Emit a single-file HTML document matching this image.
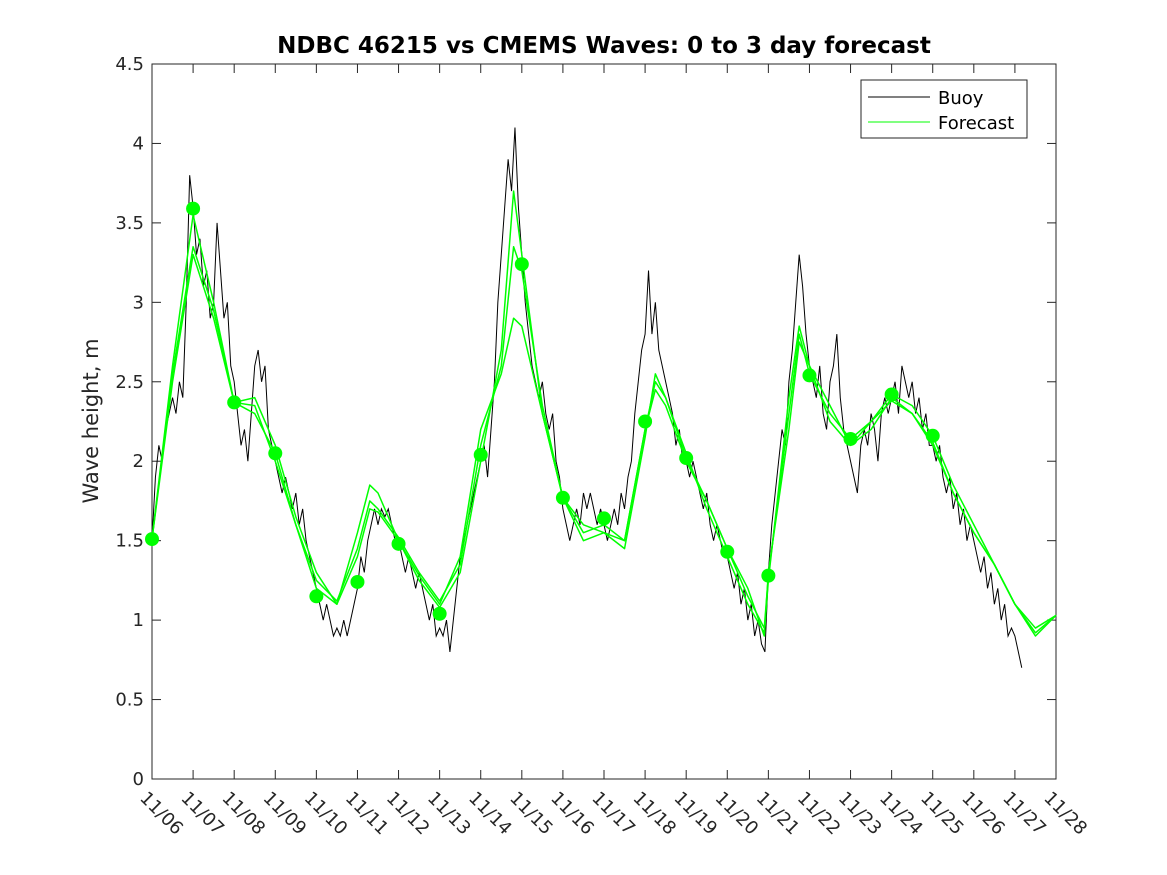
<!DOCTYPE html>
<html><head><meta charset="utf-8"><style>
body{margin:0;background:#fff;}
svg{display:block;font-family:"DejaVu Sans","Liberation Sans",sans-serif;}
</style></head><body>
<svg id="chart" width="1167" height="875" viewBox="0 0 1167 875"></svg>
<script>
const dayLabels=["11/06","11/07","11/08","11/09","11/10","11/11","11/12","11/13","11/14","11/15","11/16","11/17","11/18","11/19","11/20","11/21","11/22","11/23","11/24","11/25","11/26","11/27","11/28"];
const yTicks=[0,0.5,1,1.5,2,2.5,3,3.5,4,4.5];
const buoyStart=6, buoyStep=1/12;
const buoy=[1.5,1.9,2.1,2.0,2.2,2.3,2.4,2.3,2.5,2.4,3.0,3.8,
3.6,3.3,3.4,3.1,3.2,2.9,3.0,3.5,3.2,2.9,3.0,2.6,
2.5,2.3,2.1,2.2,2.0,2.3,2.6,2.7,2.5,2.6,2.2,2.1,
2.0,1.9,1.8,1.9,1.8,1.7,1.8,1.6,1.7,1.5,1.4,1.3,
1.2,1.1,1.0,1.1,1.0,0.9,0.95,0.9,1.0,0.9,1.0,1.1,
1.2,1.4,1.3,1.5,1.6,1.7,1.6,1.7,1.65,1.7,1.6,1.5,
1.5,1.4,1.3,1.4,1.3,1.2,1.3,1.2,1.1,1.0,1.1,0.9,
0.95,0.9,1.0,0.8,1.0,1.2,1.4,1.5,1.6,1.7,1.8,1.9,
2.0,2.1,1.9,2.2,2.5,3.0,3.3,3.6,3.9,3.7,4.1,3.6,
3.3,3.0,2.8,2.6,2.5,2.4,2.5,2.3,2.2,2.3,2.0,1.9,
1.7,1.6,1.5,1.6,1.7,1.6,1.8,1.7,1.8,1.7,1.6,1.7,
1.6,1.5,1.6,1.7,1.6,1.8,1.7,1.9,2.0,2.3,2.5,2.7,
2.8,3.2,2.8,3.0,2.7,2.6,2.5,2.4,2.3,2.1,2.2,2.0,
2.0,1.9,2.0,1.9,1.8,1.7,1.8,1.6,1.5,1.6,1.5,1.4,
1.4,1.3,1.2,1.3,1.1,1.2,1.0,1.1,0.9,1.0,0.85,0.8,
1.3,1.6,1.8,2.0,2.2,2.1,2.5,2.7,3.0,3.3,3.1,2.8,
2.6,2.5,2.4,2.6,2.3,2.2,2.5,2.6,2.8,2.4,2.2,2.1,
2.0,1.9,1.8,2.1,2.2,2.1,2.3,2.2,2.0,2.3,2.4,2.3,
2.4,2.5,2.3,2.6,2.5,2.4,2.5,2.3,2.4,2.2,2.3,2.1,
2.1,2.0,2.1,1.9,1.8,1.9,1.7,1.8,1.6,1.7,1.5,1.6,
1.5,1.4,1.3,1.4,1.2,1.3,1.1,1.2,1.0,1.1,0.9,0.95,
0.9,0.8,0.7];
const fcDays=[6,6.5,7,7.5,8,8.5,9,9.5,10,10.5,11,11.3,11.5,12,12.5,13,13.5,14,14.5,14.8,15,15.5,16,16.5,17,17.5,18,18.25,18.5,19,19.5,20,20.5,20.9,21,21.5,21.75,22,22.5,23,23.5,24,24.5,25,25.5,26,26.5,27,27.5,28];
const fcA=[1.51,2.6,3.55,3.0,2.37,2.3,2.05,1.6,1.2,1.1,1.55,1.85,1.8,1.5,1.25,1.08,1.3,2.0,2.7,3.7,3.3,2.3,1.77,1.55,1.6,1.5,2.2,2.5,2.4,2.02,1.75,1.45,1.15,0.95,1.28,2.3,2.8,2.55,2.3,2.14,2.25,2.42,2.35,2.16,1.85,1.6,1.35,1.1,0.9,1.03];
const fcB=[1.51,2.55,3.35,2.95,2.37,2.35,2.0,1.6,1.25,1.12,1.45,1.75,1.7,1.52,1.3,1.12,1.35,2.1,2.6,3.35,3.2,2.35,1.77,1.6,1.55,1.45,2.15,2.55,2.4,2.05,1.7,1.4,1.1,0.92,1.25,2.4,2.85,2.6,2.25,2.1,2.2,2.4,2.3,2.1,1.8,1.55,1.35,1.1,0.95,1.03];
const fcC=[1.51,2.5,3.3,2.9,2.37,2.4,2.1,1.65,1.3,1.1,1.4,1.7,1.68,1.5,1.28,1.1,1.4,2.2,2.55,2.9,2.85,2.3,1.77,1.5,1.55,1.5,2.2,2.45,2.35,2.0,1.75,1.45,1.2,0.9,1.3,2.2,2.75,2.6,2.35,2.1,2.25,2.38,2.3,2.12,1.8,1.55,1.35,1.1,0.92,1.03];
const markerVals=[1.51,3.59,2.37,2.05,1.15,1.24,1.48,1.04,2.04,3.24,1.77,1.64,2.25,2.02,1.43,1.28,2.54,2.14,2.42,2.16];

const NS="http://www.w3.org/2000/svg";
const svg=document.getElementById('chart');
const L=152,R=1056,T=64,B=779;
const xs=d=>L+(d-6)/22*(R-L);
const ys=v=>B-v/4.5*(B-T);
function el(t,a,p){const e=document.createElementNS(NS,t);for(const k in a)e.setAttribute(k,a[k]);(p||svg).appendChild(e);return e;}

let bg=el('rect',{x:L,y:T,width:R-L,height:B-T,fill:'#fff',stroke:'#262626','stroke-width':1});



const tt=el('text',{x:(L+R)/2,y:53,'text-anchor':'middle','font-size':23,'font-weight':'bold',fill:'#000'});
tt.textContent='NDBC 46215 vs CMEMS Waves: 0 to 3 day forecast';



const yl=el('text',{x:0,y:0,transform:'translate(98,421) rotate(-90)','text-anchor':'middle','font-size':21,fill:'#262626'});
yl.textContent='Wave height, m';



yTicks.forEach(v=>{
  const y=ys(v);
  el('line',{x1:L,x2:L+9,y1:y,y2:y,stroke:'#262626'});
  el('line',{x1:R,x2:R-9,y1:y,y2:y,stroke:'#262626'});
  const t=el('text',{x:L-8,y:y+6,'text-anchor':'end','font-size':18,fill:'#262626'});
  t.textContent=String(v);
  
  
});
dayLabels.forEach((lab,i)=>{
  const x=xs(6+i);
  el('line',{x1:x,x2:x,y1:B,y2:B-9,stroke:'#262626'});
  el('line',{x1:x,x2:x,y1:T,y2:T+9,stroke:'#262626'});
  const t=el('text',{x:0,y:0,transform:`translate(${x-13},${B+20}) rotate(45)`,'font-size':18,fill:'#262626'});
  t.textContent=lab;
  
  
});

const bp=el('polyline',{points:buoy.map((v,i)=>xs(buoyStart+i*buoyStep)+','+ys(v)).join(' '),fill:'none',stroke:'#000','stroke-width':1});



[fcA,fcB,fcC].forEach((s,k)=>{
  const p=el('polyline',{points:s.map((v,i)=>xs(fcDays[i])+','+ys(v)).join(' '),fill:'none',stroke:'#00ff00','stroke-width':1.5,'stroke-linejoin':'round'});
  
  
});
markerVals.forEach((v,i)=>{
  const c=el('circle',{cx:xs(6+i),cy:ys(v),r:7,fill:'#00ff00'});
  
  
});

const g=el('g',{});


el('rect',{x:861,y:80,width:166,height:58,fill:'#fff',stroke:'#262626'},g);
el('line',{x1:868,x2:930,y1:97,y2:97,stroke:'#000'},g);
el('line',{x1:868,x2:930,y1:122,y2:122,stroke:'#00ff00'},g);
const l1=el('text',{x:938,y:104,'font-size':18,fill:'#000'},g);l1.textContent='Buoy';


const l2=el('text',{x:938,y:129,'font-size':18,fill:'#000'},g);l2.textContent='Forecast';


</script>
</body></html>
